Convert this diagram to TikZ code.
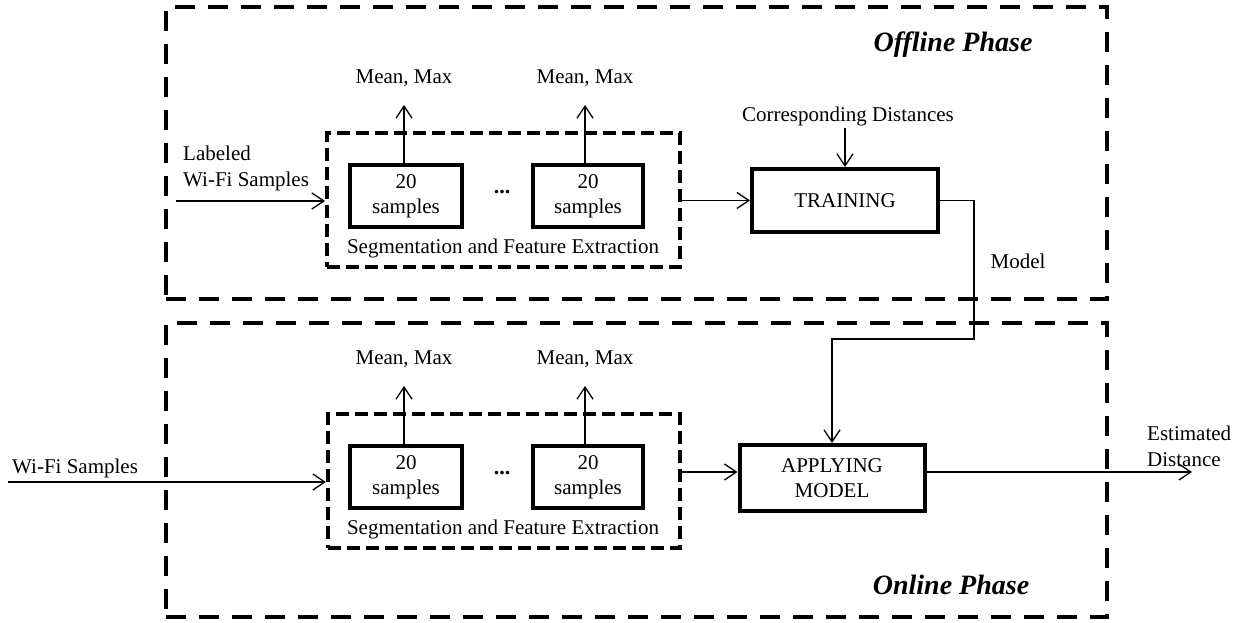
\documentclass[tikz,border=0pt]{standalone}
\usepackage{fontspec}
\setmainfont{Liberation Serif}
\usetikzlibrary{arrows.meta}
\begin{document}
\begin{tikzpicture}[x=1pt,y=-1pt,
 txt/.style={font=\fontsize{21}{26}\selectfont, inner sep=0pt},
 phase/.style={draw, line width=4.5pt, dash pattern=on 20pt off 13pt, inner sep=0pt},
 seg/.style={draw, line width=4pt, dash pattern=on 13pt off 6pt, inner sep=0pt},
 blk/.style={draw, line width=4pt, inner sep=0pt, align=center, font=\fontsize{21}{25}\selectfont},
 smp/.style={blk, minimum height=62pt, text depth=4pt},
 arr/.style={line width=1.3pt, -{Straight Barb[length=12pt,width=16pt]}},
 ptitle/.style={font=\fontsize{28}{30}\selectfont\bfseries\itshape, inner sep=0pt}]
\useasboundingbox (0,0) rectangle (1248,623);

% phase boxes
\node[phase, minimum width=941pt, minimum height=292pt] (off) at (636.5,153) {};
\node[phase, minimum width=941pt, minimum height=294pt] (on) at (636.5,470) {};
\node[ptitle] (offt) at (953,45) {Offline Phase};
\node[ptitle] (ont) at (951,585) {Online Phase};

% offline segmentation
\node[seg, minimum width=353pt, minimum height=134pt] (segoff) at (503.5,200) {};
\node[smp, minimum width=112pt] (b1) at (406,196) {20\\samples};
\node[smp, minimum width=110pt] (b2) at (588,196) {20\\samples};
\node[txt, font=\fontsize{22}{25}\selectfont\bfseries] (d1) at (502,192) {...};
\node[txt] (s1) at (503,248) {Segmentation and Feature Extraction};
\node[txt] (m1) at (404,78) {Mean, Max};
\node[txt] (m2) at (585,78) {Mean, Max};
\coordinate (t1) at (404,105);
\coordinate (t2) at (585,105);
\draw[arr] (b1.north -| t1) -- (t1);
\draw[arr] (b2.north -| t2) -- (t2);

% offline inputs
\node[txt, align=left, anchor=west] (lab) at (183,168) {Labeled\\Wi-Fi Samples};
\coordinate (in1) at (176,201);
\draw[arr] (in1) -- (segoff.west |- in1);

% training
\node[blk, minimum width=186pt, minimum height=63pt] (train) at (845,200.5) {TRAINING};
\draw[arr] (segoff.east |- train.west) -- (train.west);
\node[txt] (cd) at (848,116) {Corresponding Distances};
\coordinate (cdt) at (845,128);
\draw[arr] (cdt) -- (train.north);
\node[txt] (model) at (1018,261) {Model};

% online segmentation
\node[seg, minimum width=352pt, minimum height=134pt] (segon) at (504,481) {};
\node[smp, minimum width=112pt] (b3) at (406,477) {20\\samples};
\node[smp, minimum width=110pt] (b4) at (588,477) {20\\samples};
\node[txt, font=\fontsize{22}{25}\selectfont\bfseries] (d2) at (502,473) {...};
\node[txt] (s2) at (503,529) {Segmentation and Feature Extraction};
\node[txt] (m3) at (404,359) {Mean, Max};
\node[txt] (m4) at (585,359) {Mean, Max};
\coordinate (t3) at (404,386);
\coordinate (t4) at (585,386);
\draw[arr] (b3.north -| t3) -- (t3);
\draw[arr] (b4.north -| t4) -- (t4);

\node[txt, anchor=west] (wifi) at (12,468) {Wi-Fi Samples};
\coordinate (in2) at (8,482);
\draw[arr] (in2) -- (segon.west |- in2);

% applying model
\node[blk, minimum width=185pt, minimum height=66pt] (apply) at (832,478) {APPLYING\\MODEL};
\coordinate (ay) at (0,472);
\draw[arr] (segon.east |- ay) -- (apply.west |- ay);
\coordinate (out) at (1192,472);
\draw[arr] (apply.east |- ay) -- (out);
\node[txt, align=left, anchor=west] (est) at (1147,446) {Estimated\\Distance};

% model connector
\coordinate (mc) at (974,339);
\draw[arr] (train.east) -| (mc) -| (apply.north);
\end{tikzpicture}
\end{document}
